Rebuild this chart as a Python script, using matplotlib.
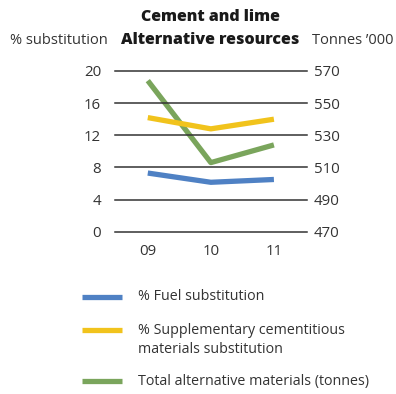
import matplotlib
matplotlib.use("Agg")
import matplotlib.pyplot as plt
from matplotlib.lines import Line2D

plt.rcParams['font.family'] = ['Open Sans', 'DejaVu Sans']

years = ["09", "10", "11"]
fuel_pct = [7.3, 6.15, 6.5]
scm_pct = [14.2, 12.8, 14.0]
total_tonnes = [564, 513, 524]

left_ticks = [0, 4, 8, 12, 16, 20]
right_ticks = [470, 490, 510, 530, 550, 570]

c_blue = "#4F81C4"
c_yellow = "#F1C31C"
c_green = "#7AA55C"
c_grid = "#333333"
c_text = "#333333"

W, H = 396, 394
fig = plt.figure(figsize=(W / 100, H / 100), dpi=100)
ax = fig.add_axes([115 / W, 1 - 231.7 / H, (306.7 - 115) / W, (231.7 - 71) / H])
ax2 = ax.twinx()

x = list(range(len(years)))
ax.plot(x, fuel_pct, color=c_blue, lw=3.8, solid_capstyle='butt', zorder=3)
ax.plot(x, scm_pct, color=c_yellow, lw=3.8, solid_capstyle='butt', zorder=3)
ax2.plot(x, total_tonnes, color=c_green, lw=3.8, solid_capstyle='butt', zorder=3)

ax.set_xlim(-0.52, 2.52)
ax.set_ylim(0, 20)
ax2.set_ylim(470, 570)
ax.set_yticks(left_ticks)
ax2.set_yticks(right_ticks)
ax.set_xticks(x)
ax.set_xticklabels(years)

for t in left_ticks:
    ax.axhline(t, color=c_grid, lw=1.1, zorder=1, clip_on=False)

for a in (ax, ax2):
    for s in a.spines.values():
        s.set_visible(False)
    a.tick_params(length=0, labelsize=10.8, colors=c_text)
ax.tick_params(axis='y', pad=10)
ax2.tick_params(axis='y', pad=5)
ax.tick_params(axis='x', pad=9)
ax.set_zorder(ax2.get_zorder() + 1)
ax.patch.set_visible(False)

fig.text(210 / W, 1 - 17 / H, "Cement and lime", ha='center', va='center',
         fontsize=11.5, fontweight=800, color='#1a1a1a')
fig.text(210 / W, 1 - 40 / H, "Alternative resources", ha='center', va='center',
         fontsize=11.5, fontweight=800, color='#1a1a1a')
fig.text(10 / W, 1 - 40 / H, "% substitution", ha='left', va='center',
         fontsize=10.5, color=c_text)
fig.text(312 / W, 1 - 40 / H, "Tonnes \u2019000", ha='left', va='center',
         fontsize=10.5, color=c_text)

legend_items = [
    (c_blue, "% Fuel substitution", 297),
    (c_yellow, "% Supplementary cementitious\nmaterials substitution", 330),
    (c_green, "Total alternative materials (tonnes)", 381),
]
for col, label, yp in legend_items:
    fig.add_artist(Line2D([82 / W, 122 / W], [1 - yp / H, 1 - yp / H],
                          color=col, lw=3.8, solid_capstyle='butt'))
    fig.text(138 / W, 1 - (yp - 7.5) / H, label, ha='left', va='top',
             fontsize=10.3, color=c_text, linespacing=1.4)

fig.savefig("out.png", dpi=100)
